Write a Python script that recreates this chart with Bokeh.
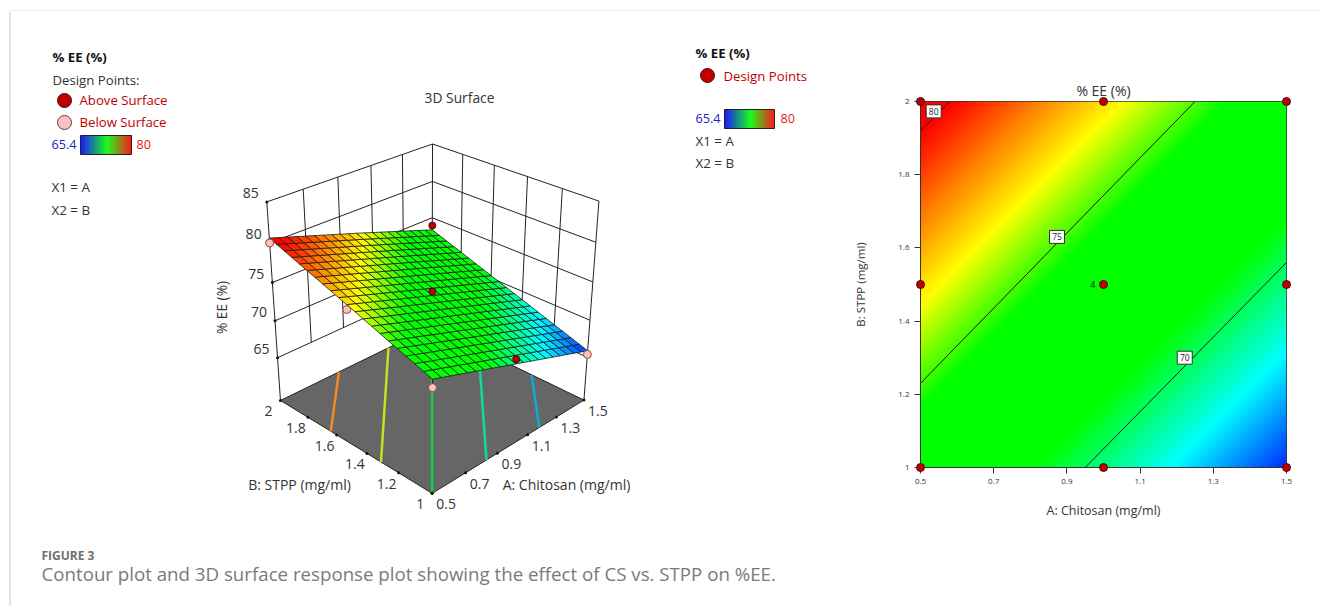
import numpy as np
from bokeh.core.properties import value
from bokeh.embed import file_html
from bokeh.layouts import column, row
from bokeh.models import FixedTicker, Range1d
from bokeh.plotting import figure
from bokeh.resources import INLINE

# ---------- data ----------
A_LEVELS = [0.5, 1.0, 1.5]
B_LEVELS = [1.0, 1.5, 2.0]
EE_GRID = [[73.3, 77.0, 80.6],
           [69.6, 73.3, 77.0],
           [65.9, 69.6, 73.3]]   # rows: A, columns: B

A_TICKS = [0.5, 0.7, 0.9, 1.1, 1.3, 1.5]
B_TICKS = [1.0, 1.2, 1.4, 1.6, 1.8, 2.0]
A_LABELS = ["0.5", "0.7", "0.9", "1.1", "1.3", "1.5"]
B_LABELS = ["1", "1.2", "1.4", "1.6", "1.8", "2"]
Z_TICKS = [65, 70, 75, 80, 85]
Z_FLOOR = 59.0

CONTOUR_LEVELS = ["80", "75", "70"]
CONTOUR_A = [[0.5, 0.58], [0.5, 1.25], [0.95, 1.5]]
CONTOUR_B = [[1.92, 2.0], [1.23, 2.0], [1.0, 1.56]]
CONTOUR_LABEL_A = [0.536, 0.873, 1.222]
CONTOUR_LABEL_B = [1.973, 1.63, 1.30]

DESIGN_A = [0.5, 0.5, 0.5, 1.0, 1.0, 1.0, 1.5, 1.5, 1.5]
DESIGN_B = [1.0, 1.5, 2.0, 1.0, 1.5, 2.0, 1.0, 1.5, 2.0]

ABOVE_A = [1.5, 1.0, 1.0]
ABOVE_B = [2.0, 1.5, 1.0]
ABOVE_EE = [73.9, 73.8, 70.2]
BELOW_A = [0.5, 0.5, 1.5, 0.5]
BELOW_B = [2.0, 1.0, 1.0, 1.5]
BELOW_EE = [80.0, 72.3, 65.4, 76.4]

FLOOR_A = [[0.5, 0.86], [0.5, 1.19], [0.5, 1.5], [0.83, 1.5], [1.18, 1.5]]
FLOOR_B = [[1.64, 2.0], [1.31, 2.0], [1.0, 2.0], [1.0, 1.67], [1.0, 1.32]]
FLOOR_COLORS = ["#f08a24", "#c8e020", "#10d040", "#10d8a0", "#10a8e0"]

# ---------- helpers ----------
STOP_V = [65.4, 68.2, 71.0, 74.5, 76.6, 80.0]
STOP_R = [0, 0, 0, 0, 255, 255]
STOP_G = [0, 255, 255, 255, 255, 0]
STOP_B = [255, 255, 0, 0, 0, 0]


def cmap(v):
    return (np.interp(v, STOP_V, STOP_R), np.interp(v, STOP_V, STOP_G), np.interp(v, STOP_V, STOP_B))


def hexcol(v):
    r, g, b = cmap(v)
    return "#%02x%02x%02x" % (int(r), int(g), int(b))


def ee(a, b):
    a = np.asarray(a, float)
    b = np.asarray(b, float)
    grid = np.array(EE_GRID)
    ia = np.clip(np.searchsorted(A_LEVELS, a, side="right") - 1, 0, 1)
    ib = np.clip(np.searchsorted(B_LEVELS, b, side="right") - 1, 0, 1)
    ta = (a - np.array(A_LEVELS)[ia]) / 0.5
    tb = (b - np.array(B_LEVELS)[ib]) / 0.5
    return (grid[ia, ib] * (1 - ta) * (1 - tb) + grid[ia + 1, ib] * ta * (1 - tb)
            + grid[ia, ib + 1] * (1 - ta) * tb + grid[ia + 1, ib + 1] * ta * tb)


# camera of the 3D view: world (A, B, EE) to page pixels
CAM_WORLD = [(0.5, 1, 59), (0.5, 2, 59), (1.5, 1, 59), (1.5, 2, 59), (0.5, 2, 85), (0.5, 2, 65),
             (1.5, 1, 85), (1.5, 1, 65), (1.5, 2, 85), (1.5, 2, 80)]
CAM_PAGE = [(432.3, 493.5), (280, 400.7), (583, 400.7), (432, 327), (266, 202.7), (276.7, 354.7),
            (599, 200.7), (586, 355), (432, 144), (432, 180)]
rows_, rhs = [], []
for (X, Y, Z), (u, v) in zip(CAM_WORLD, CAM_PAGE):
    Z0 = Z / 50.0
    rows_.append([X, Y, Z0, 1, 0, 0, 0, 0, -u * X, -u * Y, -u * Z0])
    rhs.append(u)
    rows_.append([0, 0, 0, 0, X, Y, Z0, 1, -v * X, -v * Y, -v * Z0])
    rhs.append(v)
sol = np.linalg.lstsq(np.array(rows_, float), np.array(rhs, float), rcond=None)[0]
CAM = np.append(sol, 1.0).reshape(3, 4)


def proj(a, b, z):
    a, b, z = np.broadcast_arrays(np.asarray(a, float), np.asarray(b, float), np.asarray(z, float))
    h = CAM @ np.vstack([a.ravel(), b.ravel(), z.ravel() / 50.0, np.ones(a.size)])
    return (h[0] / h[2]).reshape(a.shape), (h[1] / h[2]).reshape(a.shape)


FONT = value("Open Sans")
RED = "#c00000"
PINK = "#ffc0c0"
DARK = "#333333"

# ---------- top rule ----------
top = figure(width=1322, height=11, x_range=Range1d(0, 1322), y_range=Range1d(11, 0), toolbar_location=None,
             output_backend="svg", min_border=0, outline_line_color=None, frame_align=False)
top.axis.visible = False
top.grid.visible = False
top.quad(left=[9], right=[1322], bottom=[11], top=[9], fill_color="#dcdcdc", line_color=None)

# ---------- left figure, in page pixels ----------
p = figure(width=850, height=595, x_range=Range1d(0, 850), y_range=Range1d(606, 11), toolbar_location=None,
           output_backend="svg", min_border=0, outline_line_color=None, frame_align=False)
p.axis.visible = False
p.grid.visible = False
p.segment([9.5], [11], [9.5], [606], line_color="#dcdcdc", line_width=1.5)


def txt(x, y, s, color=DARK, size=13.2, style="normal", align="left", angle=0.0):
    p.text([x], [y], text=[s], text_color=color, text_font=FONT, text_font_size=f"{size}px",
           text_font_style=style, text_align=align, text_baseline="middle", angle=angle)


def bar(x0, y0, w, h):
    n = w
    ts = np.linspace(0, 1, n)
    cols = []
    for t in ts:
        if t < 0.52:
            f = t / 0.52
            cols.append("#%02x%02x%02x" % (0, int(255 * f), int(255 * (1 - f))))
        else:
            f = (t - 0.52) / 0.48
            cols.append("#%02x%02x%02x" % (int(255 * f), int(255 * (1 - f)), 0))
    p.quad(left=x0 + np.arange(n), right=x0 + np.arange(n) + 1.3, top=[y0] * n, bottom=[y0 + h] * n,
           fill_color=cols, line_color=None)
    p.quad(left=[x0], right=[x0 + w], top=[y0], bottom=[y0 + h], fill_color=None, line_color="#222222")


# legend of the 3D panel
txt(52, 56, "% EE (%)", color="#111111", style="bold")
txt(52, 79, "Design Points:")
p.scatter([64], [100], size=14, fill_color=RED, line_color="#401010")
txt(79, 99, "Above Surface", color=RED)
p.scatter([64], [122], size=14, fill_color=PINK, line_color="#604040")
txt(79, 121, "Below Surface", color=RED)
txt(51, 144, "65.4", color="#2020c0", size=12.6)
bar(80, 135, 51, 19)
txt(136, 144, "80", color="#e02020", size=12.6)
txt(51, 186, "X1 = A", size=13.4)
txt(51, 209, "X2 = B", size=13.4)
txt(459, 97, "3D Surface", align="center", size=13.8)

# legend of the contour panel
txt(695, 52, "% EE (%)", color="#111111", style="bold")
p.scatter([707], [75], size=14, fill_color=RED, line_color="#401010")
txt(723, 75, "Design Points", color=RED)
txt(695, 118, "65.4", color="#2020c0", size=12.6)
bar(724, 109, 50, 19)
txt(780, 118, "80", color="#e02020", size=12.6)
txt(695, 140, "X1 = A", size=13.4)
txt(695, 162, "X2 = B", size=13.4)

# caption
p.text([41], [555], text=["FIGURE 3"], text_font=FONT, text_font_size="12px", text_color="#707070",
       text_font_style="bold", text_baseline="middle")
p.text([41], [573], text=["Contour plot and 3D surface response plot showing the effect of CS vs. STPP on %EE."],
       text_font=FONT, text_font_size="18.7px", text_color="#7a7a7a", text_baseline="middle")

# 3D walls
xs, ys = [], []


def seg3(a, b, z):
    x, y = proj(a, b, z)
    xs.append(list(x))
    ys.append(list(y))


for a in A_TICKS[1:-1]:
    seg3([a, a], [2, 2], [Z_TICKS[0], Z_TICKS[-1]])
for b in B_TICKS[1:-1]:
    seg3([1.5, 1.5], [b, b], [Z_TICKS[0], Z_TICKS[-1]])
for z in Z_TICKS:
    seg3([0.5, 1.5], [2, 2], [z, z])
    seg3([1.5, 1.5], [2, 1], [z, z])
seg3([0.5, 0.5], [2, 2], [Z_FLOOR, 85])
seg3([1.5, 1.5], [1, 1], [Z_FLOOR, 85])
seg3([1.5, 1.5], [2, 2], [Z_FLOOR, 85])
p.multi_line(xs, ys, line_color="#222222", line_width=1)

# floor
fx, fy = proj([0.5, 0.5, 1.5, 1.5], [1, 2, 2, 1], [Z_FLOOR] * 4)
p.patch(fx, fy, fill_color="#666666", line_color="#222222", line_width=1)
for aa, bb, col in zip(FLOOR_A, FLOOR_B, FLOOR_COLORS):
    x, y = proj(aa, bb, [Z_FLOOR, Z_FLOOR])
    p.line(x, y, line_color=col, line_width=2.5)

# axis tick dots
tx, ty = proj([0.5] * len(Z_TICKS), [2] * len(Z_TICKS), Z_TICKS)
p.scatter(tx, ty, size=3, fill_color="#111111", line_color=None)
p.text(tx - 16, ty - 9, text=[str(z) for z in Z_TICKS], text_font=FONT, text_font_size="14px", text_color=DARK,
       text_align="center", text_baseline="middle")
tx, ty = proj(A_TICKS, [1] * 6, [Z_FLOOR] * 6)
p.scatter(tx, ty, size=3, fill_color="#111111", line_color=None)
p.text(tx + 14, ty + 11, text=A_LABELS, text_font=FONT, text_font_size="14px", text_color=DARK,
       text_align="center", text_baseline="middle")
tx, ty = proj([0.5] * 6, B_TICKS, [Z_FLOOR] * 6)
p.scatter(tx, ty, size=3, fill_color="#111111", line_color=None)
p.text(tx - 12, ty + 11, text=B_LABELS, text_font=FONT, text_font_size="14px", text_color=DARK,
       text_align="center", text_baseline="middle")
txt(221, 307, "% EE (%)", size=13.7, align="center", angle=np.pi / 2)
txt(299, 484, "B: STPP (mg/ml)", size=14, align="center")
txt(566, 484, "A: Chitosan (mg/ml)", size=14, align="center")

# point under the surface edge
bx, by = proj(BELOW_A, BELOW_B, BELOW_EE)
p.scatter(bx[3:], by[3:], size=8, fill_color=PINK, line_color="#805050")
sx, sy = proj(BELOW_A[:3], BELOW_B[:3], ee(BELOW_A[:3], BELOW_B[:3]))
p.segment(sx, sy, bx[:3], by[:3], line_color="#222222", line_width=1.2)

# surface
N = 20
ga = np.linspace(0.5, 1.5, N + 1)
gb = np.linspace(1.0, 2.0, N + 1)
px_, py_, cols = [], [], []
for i in range(N):
    for j in range(N):
        qa = [ga[i], ga[i + 1], ga[i + 1], ga[i]]
        qb = [gb[j], gb[j], gb[j + 1], gb[j + 1]]
        qz = ee(qa, qb)
        x, y = proj(qa, qb, qz)
        px_.append(list(x))
        py_.append(list(y))
        cols.append(hexcol(float(np.mean(qz))))
p.patches(px_, py_, fill_color=cols, line_color="#1a1a1a", line_width=0.8)

# points over the surface
ax_, ay_ = proj(ABOVE_A, ABOVE_B, ABOVE_EE)
sx, sy = proj(ABOVE_A, ABOVE_B, ee(ABOVE_A, ABOVE_B))
p.segment(sx, sy, ax_, ay_, line_color="#222222", line_width=1.2)
p.scatter(ax_, ay_, size=7, fill_color=RED, line_color="#401010")
p.scatter(bx[:3], by[:3], size=8, fill_color=PINK, line_color="#805050")

# ---------- contour panel ----------
c = figure(width=472, height=595, x_range=Range1d(0.5, 1.5), y_range=Range1d(1, 2), toolbar_location=None,
           output_backend="svg", min_border_left=70, min_border_right=36, min_border_top=90, min_border_bottom=139,
           outline_line_color="#333333", title="% EE (%)", frame_align=False)
c.grid.visible = False
c.title.align = "center"
c.title.text_font = "Open Sans"
c.title.text_font_style = "normal"
c.title.text_font_size = "14px"
c.title.text_color = DARK
c.title.offset = 0
c.title.standoff = 4

n = 240
gx = np.linspace(0.5, 1.5, n)
gy = np.linspace(1.0, 2.0, n)
mx, my = np.meshgrid(gx, gy)
vals = ee(mx, my)
r, g, b = cmap(vals)
rgba = np.zeros((n, n), dtype=np.uint32)
view = rgba.view(dtype=np.uint8).reshape((n, n, 4))
view[..., 0], view[..., 1], view[..., 2], view[..., 3] = r, g, b, 255
c.image_rgba(image=[rgba], x=0.5, y=1.0, dw=1.0, dh=1.0)

c.multi_line(CONTOUR_A, CONTOUR_B, line_color="#1a1a1a", line_width=1)
c.rect(CONTOUR_LABEL_A, CONTOUR_LABEL_B, width=15, height=13, width_units="screen", height_units="screen",
       fill_color="white", line_color="#333333")
c.text(CONTOUR_LABEL_A, CONTOUR_LABEL_B, text=CONTOUR_LEVELS, text_font=FONT, text_font_size="8.5px",
       text_color="#222222", text_align="center", text_baseline="middle")
c.scatter(DESIGN_A, DESIGN_B, size=8, fill_color=RED, line_color="#401010", level="overlay")
c.text([1.0], [1.5], text=["4"], text_font=FONT, text_font_size="9px", text_color="#222222", text_align="right",
       text_baseline="middle", x_offset=-8)

for ax, ticks, labels in ((c.xaxis[0], A_TICKS, A_LABELS), (c.yaxis[0], B_TICKS, B_LABELS)):
    ax.ticker = FixedTicker(ticks=ticks)
    ax.major_label_overrides = dict(zip(ticks, labels))
    ax.major_tick_in = 0
    ax.major_tick_out = 6
    ax.minor_tick_line_color = None
    ax.axis_line_color = "#333333"
    ax.major_tick_line_color = "#333333"
    ax.major_label_text_font = "Open Sans"
    ax.major_label_text_font_size = "8px"
    ax.major_label_text_color = DARK
    ax.axis_label_text_font = "Open Sans"
    ax.axis_label_text_font_style = "normal"
    ax.axis_label_text_color = DARK
c.xaxis.axis_label = "A: Chitosan (mg/ml)"
c.yaxis.axis_label = "B: STPP (mg/ml)"
c.xaxis.axis_label_text_font_size = "12.5px"
c.yaxis.axis_label_text_font_size = "11.5px"
c.xaxis.axis_label_standoff = 15
c.yaxis.axis_label_standoff = 27

layout = column(top, row(p, c, spacing=0), spacing=0)
open("out.html", "w").write(file_html(layout, INLINE))
